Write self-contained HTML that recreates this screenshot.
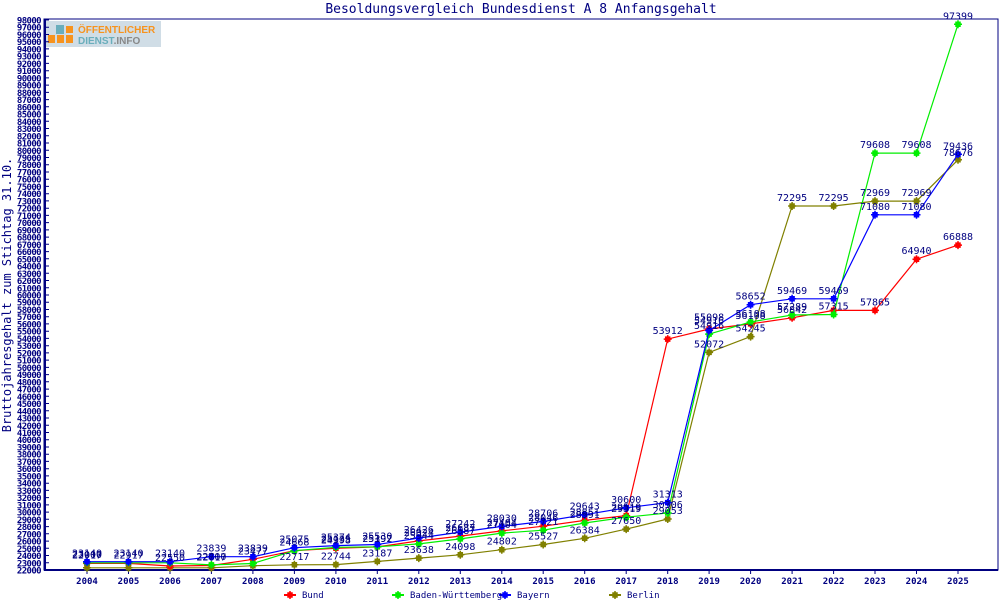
<!DOCTYPE html>
<html><head><meta charset="utf-8"><style>
html,body{margin:0;padding:0;background:#fff;}
svg{display:block;font-family:"DejaVu Sans Mono","Liberation Mono",monospace;}
.t{font-size:9px;font-weight:bold;fill:#000080;text-anchor:end;letter-spacing:-0.6px}
.x{font-size:9px;font-weight:bold;fill:#000080;text-anchor:middle}
.v{font-size:10px;fill:#000080;text-anchor:middle}
</style></head><body>
<svg width="1000" height="600" viewBox="0 0 1000 600" xmlns="http://www.w3.org/2000/svg">
<defs>
<marker id="mr" markerWidth="10" markerHeight="10" refX="5" refY="5" markerUnits="userSpaceOnUse"><path d="M3 3h4v4h-4zM1 5h8M5 1v8" fill="#ff0000" stroke="#ff0000" stroke-width="1.5"/></marker>
<marker id="mg" markerWidth="10" markerHeight="10" refX="5" refY="5" markerUnits="userSpaceOnUse"><path d="M3 3h4v4h-4zM1 5h8M5 1v8" fill="#00ee00" stroke="#00ee00" stroke-width="1.5"/></marker>
<marker id="mb" markerWidth="10" markerHeight="10" refX="5" refY="5" markerUnits="userSpaceOnUse"><path d="M3 3h4v4h-4zM1 5h8M5 1v8" fill="#0000ff" stroke="#0000ff" stroke-width="1.5"/></marker>
<marker id="mo" markerWidth="10" markerHeight="10" refX="5" refY="5" markerUnits="userSpaceOnUse"><path d="M3 3h4v4h-4zM1 5h8M5 1v8" fill="#808000" stroke="#808000" stroke-width="1.5"/></marker>
</defs>
<rect width="1000" height="600" fill="#fff"/>
<text x="521" y="13" text-anchor="middle" font-size="13" fill="#000080">Besoldungsvergleich Bundesdienst A 8 Anfangsgehalt</text>
<text transform="translate(11,295) rotate(-90)" text-anchor="middle" font-size="12" fill="#000080">Bruttojahresgehalt zum Stichtag 31.10.</text>
<rect x="44" y="19" width="954" height="551" fill="none" stroke="#000080" stroke-width="1"/>
<line x1="44" y1="570" x2="998" y2="570" stroke="#000080" stroke-width="2"/>
<line x1="45" y1="19" x2="45" y2="570" stroke="#000080" stroke-width="2"/>
<rect x="46" y="21" width="115" height="26" fill="#d0dde6"/>
<rect x="56" y="25" width="8" height="9" fill="#6aaebc"/>
<rect x="66" y="26" width="7" height="7" fill="#f7931e"/>
<rect x="48" y="35" width="7" height="8" fill="#f7931e"/>
<rect x="57" y="35" width="7" height="8" fill="#f7931e"/>
<rect x="66" y="35" width="7" height="8" fill="#f7931e"/>
<text x="78" y="33" font-family="Liberation Sans,sans-serif" font-weight="bold" font-size="10" fill="#f7931e">ÖFFENTLICHER</text>
<text x="78" y="44" font-family="Liberation Sans,sans-serif" font-weight="bold" font-size="10" fill="#6aaebc">DIENST<tspan fill="#888">.INFO</tspan></text>

<path stroke="#000080" stroke-width="1" d="M45 570h4M45 562.8h4M45 555.5h4M45 548.3h4M45 541.1h4M45 533.8h4M45 526.6h4M45 519.3h4M45 512.1h4M45 504.9h4M45 497.6h4M45 490.4h4M45 483.2h4M45 475.9h4M45 468.7h4M45 461.4h4M45 454.2h4M45 447h4M45 439.7h4M45 432.5h4M45 425.3h4M45 418h4M45 410.8h4M45 403.5h4M45 396.3h4M45 389.1h4M45 381.8h4M45 374.6h4M45 367.4h4M45 360.1h4M45 352.9h4M45 345.7h4M45 338.4h4M45 331.2h4M45 323.9h4M45 316.7h4M45 309.5h4M45 302.2h4M45 295h4M45 287.8h4M45 280.5h4M45 273.3h4M45 266h4M45 258.8h4M45 251.6h4M45 244.3h4M45 237.1h4M45 229.9h4M45 222.6h4M45 215.4h4M45 208.2h4M45 200.9h4M45 193.7h4M45 186.4h4M45 179.2h4M45 172h4M45 164.7h4M45 157.5h4M45 150.3h4M45 143h4M45 135.8h4M45 128.5h4M45 121.3h4M45 114.1h4M45 106.8h4M45 99.6h4M45 92.4h4M45 85.1h4M45 77.9h4M45 70.7h4M45 63.4h4M45 56.2h4M45 48.9h4M45 41.7h4M45 34.5h4M45 27.2h4M45 20h4
M87 570v4M128.5 570v4M170 570v4M211.4 570v4M252.9 570v4M294.4 570v4M335.9 570v4M377.3 570v4M418.8 570v4M460.3 570v4M501.8 570v4M543.2 570v4M584.7 570v4M626.2 570v4M667.7 570v4M709.1 570v4M750.6 570v4M792.1 570v4M833.6 570v4M875 570v4M916.5 570v4M958 570v4"/>
<g class="t">
<text x="41" y="573.5">22000</text><text x="41" y="566.3">23000</text><text x="41" y="559">24000</text><text x="41" y="551.8">25000</text><text x="41" y="544.6">26000</text><text x="41" y="537.3">27000</text><text x="41" y="530.1">28000</text><text x="41" y="522.8">29000</text><text x="41" y="515.6">30000</text><text x="41" y="508.4">31000</text><text x="41" y="501.1">32000</text><text x="41" y="493.9">33000</text><text x="41" y="486.7">34000</text><text x="41" y="479.4">35000</text><text x="41" y="472.2">36000</text><text x="41" y="464.9">37000</text><text x="41" y="457.7">38000</text><text x="41" y="450.5">39000</text><text x="41" y="443.2">40000</text><text x="41" y="436">41000</text><text x="41" y="428.8">42000</text><text x="41" y="421.5">43000</text><text x="41" y="414.3">44000</text><text x="41" y="407">45000</text><text x="41" y="399.8">46000</text><text x="41" y="392.6">47000</text><text x="41" y="385.3">48000</text><text x="41" y="378.1">49000</text><text x="41" y="370.9">50000</text><text x="41" y="363.6">51000</text><text x="41" y="356.4">52000</text><text x="41" y="349.2">53000</text><text x="41" y="341.9">54000</text><text x="41" y="334.7">55000</text><text x="41" y="327.4">56000</text><text x="41" y="320.2">57000</text><text x="41" y="313">58000</text><text x="41" y="305.7">59000</text><text x="41" y="298.5">60000</text><text x="41" y="291.3">61000</text><text x="41" y="284">62000</text><text x="41" y="276.8">63000</text><text x="41" y="269.5">64000</text><text x="41" y="262.3">65000</text><text x="41" y="255.1">66000</text><text x="41" y="247.8">67000</text><text x="41" y="240.6">68000</text><text x="41" y="233.4">69000</text><text x="41" y="226.1">70000</text><text x="41" y="218.9">71000</text><text x="41" y="211.7">72000</text><text x="41" y="204.4">73000</text><text x="41" y="197.2">74000</text><text x="41" y="189.9">75000</text><text x="41" y="182.7">76000</text><text x="41" y="175.5">77000</text><text x="41" y="168.2">78000</text><text x="41" y="161">79000</text><text x="41" y="153.8">80000</text><text x="41" y="146.5">81000</text><text x="41" y="139.3">82000</text><text x="41" y="132">83000</text><text x="41" y="124.8">84000</text><text x="41" y="117.6">85000</text><text x="41" y="110.3">86000</text><text x="41" y="103.1">87000</text><text x="41" y="95.9">88000</text><text x="41" y="88.6">89000</text><text x="41" y="81.4">90000</text><text x="41" y="74.2">91000</text><text x="41" y="66.9">92000</text><text x="41" y="59.7">93000</text><text x="41" y="52.4">94000</text><text x="41" y="45.2">95000</text><text x="41" y="38">96000</text><text x="41" y="30.7">97000</text><text x="41" y="23.5">98000</text>
</g>
<g class="x">
<text x="87" y="584">2004</text><text x="128.5" y="584">2005</text><text x="170" y="584">2006</text><text x="211.4" y="584">2007</text><text x="252.9" y="584">2008</text><text x="294.4" y="584">2009</text><text x="335.9" y="584">2010</text><text x="377.3" y="584">2011</text><text x="418.8" y="584">2012</text><text x="460.3" y="584">2013</text><text x="501.8" y="584">2014</text><text x="543.2" y="584">2015</text><text x="584.7" y="584">2016</text><text x="626.2" y="584">2017</text><text x="667.7" y="584">2018</text><text x="709.1" y="584">2019</text><text x="750.6" y="584">2020</text><text x="792.1" y="584">2021</text><text x="833.6" y="584">2022</text><text x="875" y="584">2023</text><text x="916.5" y="584">2024</text><text x="958" y="584">2025</text>
</g>

<g fill="none" stroke-width="1.2">
<polyline stroke="#808000" marker-start="url(#mo)" marker-mid="url(#mo)" marker-end="url(#mo)" points="87,567.8 128.5,567.8 170,567.8 211.4,567.8 252.9,565.7 294.4,564.8 335.9,564.6 377.3,561.4 418.8,558.1 460.3,554.8 501.8,549.7 543.2,544.5 584.7,538.3 626.2,529.1 667.7,519 709.1,352.4 750.6,336.6 792.1,206 833.6,206 875,201.1 916.5,201.1 958,159.8"/>
<polyline stroke="#ff0000" marker-start="url(#mr)" marker-mid="url(#mr)" marker-end="url(#mr)" points="87,563.4 128.5,563.4 170,566 211.4,565.5 252.9,559.3 294.4,550.7 335.9,548.3 377.3,546.9 418.8,540.9 460.3,536.1 501.8,530.9 543.2,526.2 584.7,520.4 626.2,515.6 667.7,339.1 709.1,329 750.6,323.9 792.1,317.8 833.6,310.4 875,310.4 916.5,259.2 958,245.1"/>
<polyline stroke="#00ee00" marker-start="url(#mg)" marker-mid="url(#mg)" marker-end="url(#mg)" points="87,562.8 128.5,562.8 170,562.8 211.4,564.9 252.9,563.5 294.4,550.7 335.9,547.3 377.3,546.8 418.8,543.9 460.3,538.9 501.8,533.1 543.2,530.2 584.7,523 626.2,517.2 667.7,513 709.1,334.1 750.6,322 792.1,315 833.6,314.5 875,153.1 916.5,153.1 958,24.3"/>
<polyline stroke="#0000ff" marker-start="url(#mb)" marker-mid="url(#mb)" marker-end="url(#mb)" points="87,561.7 128.5,561.7 170,561.7 211.4,556.7 252.9,556.7 294.4,547.7 335.9,545.6 377.3,544.5 418.8,538 460.3,532.1 501.8,526.4 543.2,521.5 584.7,514.7 626.2,507.8 667.7,502.6 709.1,330.5 750.6,304.7 792.1,298.8 833.6,298.8 875,214.8 916.5,214.8 958,154.3"/>
</g>

<g class="v">
<text x="87" y="558.4">22917</text><text x="128.5" y="558.4">22917</text><text x="170" y="561">22550</text><text x="211.4" y="560.5">22617</text><text x="252.9" y="554.3">23477</text><text x="294.4" y="545.7">24668</text><text x="335.9" y="543.3">24998</text><text x="377.3" y="541.9">25192</text><text x="418.8" y="535.9">26024</text><text x="460.3" y="531.1">26687</text><text x="501.8" y="525.9">27404</text><text x="543.2" y="521.2">28046</text><text x="584.7" y="515.4">28851</text><text x="626.2" y="510.6">29519</text><text x="667.7" y="334.1">53912</text><text x="709.1" y="324">54916</text><text x="750.6" y="318.9">56108</text><text x="792.1" y="312.8">56842</text><text x="875" y="305.4">57865</text><text x="916.5" y="254.2">64940</text><text x="958" y="240.1">66888</text>
<text x="87" y="557.8">23000</text><text x="211.4" y="559.9">22700</text><text x="335.9" y="542.3">25135</text><text x="377.3" y="541.8">25397</text><text x="418.8" y="538.9">25944</text><text x="460.3" y="533.9">26587</text><text x="501.8" y="528.1">27104</text><text x="543.2" y="525.2">27721</text><text x="584.7" y="518">28591</text><text x="626.2" y="512.2">29319</text><text x="667.7" y="508">30306</text><text x="709.1" y="329.1">54916</text><text x="750.6" y="317">56108</text><text x="792.1" y="310">57289</text><text x="833.6" y="309.5">57315</text><text x="875" y="148.1">79608</text><text x="916.5" y="148.1">79608</text><text x="958" y="19.3">97399</text>
<text x="87" y="556.7">23140</text><text x="128.5" y="556.7">23140</text><text x="170" y="556.7">23140</text><text x="211.4" y="551.7">23839</text><text x="252.9" y="551.7">23839</text><text x="294.4" y="542.7">25075</text><text x="335.9" y="540.6">25374</text><text x="377.3" y="539.5">25530</text><text x="418.8" y="533">26426</text><text x="460.3" y="527.1">27242</text><text x="501.8" y="521.4">28030</text><text x="543.2" y="516.5">28706</text><text x="584.7" y="509.7">29643</text><text x="626.2" y="502.8">30600</text><text x="667.7" y="497.6">31313</text><text x="709.1" y="320.5">55098</text><text x="750.6" y="299.7">58652</text><text x="792.1" y="293.8">59469</text><text x="833.6" y="293.8">59469</text><text x="875" y="209.8">71080</text><text x="916.5" y="209.8">71080</text><text x="958" y="149.3">79436</text>
<text x="294.4" y="559.8">22717</text><text x="335.9" y="559.6">22744</text><text x="377.3" y="556.4">23187</text><text x="418.8" y="553.1">23638</text><text x="460.3" y="549.8">24098</text><text x="501.8" y="544.7">24802</text><text x="543.2" y="539.5">25527</text><text x="584.7" y="533.3">26384</text><text x="626.2" y="524.1">27650</text><text x="667.7" y="514">29053</text><text x="709.1" y="347.4">52072</text><text x="750.6" y="331.6">54245</text><text x="792.1" y="201">72295</text><text x="833.6" y="201">72295</text><text x="875" y="196.1">72969</text><text x="916.5" y="196.1">72969</text><text x="958" y="156">78676</text>
</g>

<g stroke-width="2">
<line x1="284" y1="595" x2="296" y2="595" stroke="#ff0000"/><line x1="392" y1="595" x2="404" y2="595" stroke="#00ee00"/><line x1="499" y1="595" x2="511" y2="595" stroke="#0000ff"/><line x1="609" y1="595" x2="621" y2="595" stroke="#808000"/>
</g>
<g>
<path d="M288 593h4v4h-4zM286 595h8M290 591v8" fill="#ff0000" stroke="#ff0000" stroke-width="1.5"/>
<path d="M396 593h4v4h-4zM394 595h8M398 591v8" fill="#00ee00" stroke="#00ee00" stroke-width="1.5"/>
<path d="M503 593h4v4h-4zM501 595h8M505 591v8" fill="#0000ff" stroke="#0000ff" stroke-width="1.5"/>
<path d="M613 593h4v4h-4zM611 595h8M615 591v8" fill="#808000" stroke="#808000" stroke-width="1.5"/>
</g>
<g font-size="9" fill="#000080">
<text x="302" y="598">Bund</text><text x="410" y="598">Baden-Württemberg</text><text x="517" y="598">Bayern</text><text x="627" y="598">Berlin</text>
</g>
</svg>
</body></html>
